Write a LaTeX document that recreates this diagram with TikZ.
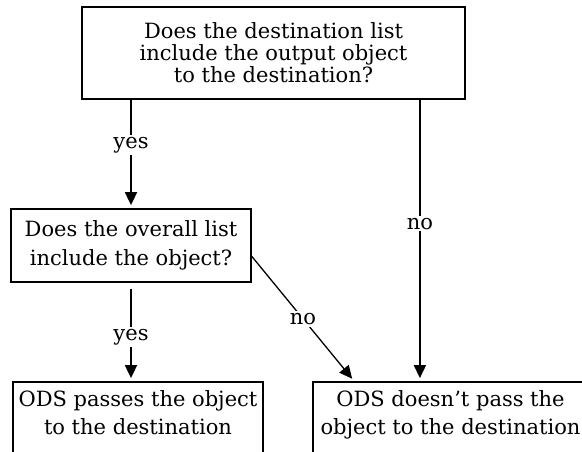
\documentclass[tikz,border=0pt]{standalone}
\usepackage{fontspec}
\setmainfont{DejaVu Serif}
\usetikzlibrary{arrows.meta}

\begin{document}
\begin{tikzpicture}[x=1pt, y=-1pt,
	box/.style={shape=rectangle, draw, line width=1.8pt, align=center, inner sep=0pt, font=\fontsize{21}{22}\selectfont},
	lbl/.style={fill=white, inner sep=2pt, font=\fontsize{21}{22}\selectfont},
	arr/.style={line width=1.8pt, -{Triangle[width=12pt,length=13pt]}, shorten >=3pt}]
	\useasboundingbox (0,0) rectangle (582,452);
	\clip (0,0) rectangle (582,452);
	% Questions:
	\node[box, minimum width=383pt, minimum height=92pt] (q1) at (273.5, 53){Does the destination list\\include the output object\\to the destination?};
	\node[box, minimum width=240pt, minimum height=73pt, font=\fontsize{21}{29}\selectfont] (q2) at (131, 245.5){Does the overall list\\include the object?};
	% Answers (cut off by the frame):
	\node[box, minimum width=250pt, minimum height=90pt, font=\fontsize{21}{28}\selectfont] (a1) at (138, 427){ODS passes the object\\to the destination\\ };
	\node[box, minimum width=275pt, minimum height=90pt, font=\fontsize{21}{28}\selectfont] (a2) at (450.5, 427){ODS doesn't pass the\\object to the destination\\ };
	% Connectors:
	\coordinate (q1no) at ([xshift=-46pt]q1.south east);
	\coordinate (q2no) at ([yshift=-11pt]q2.east);
	\coordinate (a2in) at ([xshift=42pt]a2.north west);
	\draw[arr] (q1.south -| q2.north) -- node[lbl, pos=0.42]{yes} (q2.north);
	\draw[arr, shorten <=6pt] (q2.south) -- node[lbl, pos=0.55]{yes} (q2.south |- a1.north);
	\draw[arr] (q1no) -- node[lbl, pos=0.44]{no} (q1no |- a2.north);
	\draw[arr, line width=1.3pt] (q2no) -- node[lbl]{no} (a2in);
\end{tikzpicture}
\end{document}
